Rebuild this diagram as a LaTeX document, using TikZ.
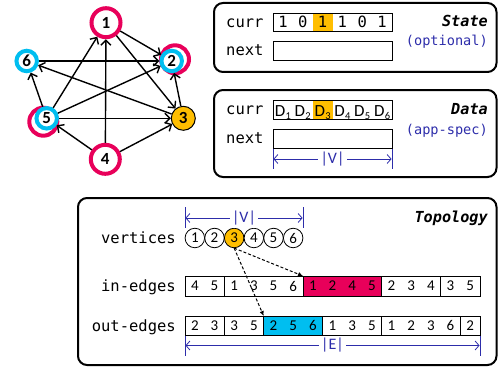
\documentclass[tikz,border=0pt]{standalone}
\usepackage{fontspec}
\setmainfont{Carlito}
\setmonofont{DejaVu Sans Mono}
\usepackage{xcolor}
\usetikzlibrary{arrows.meta,positioning,calc}

\definecolor{ringpink}{RGB}{232,0,90}
\definecolor{ringcyan}{RGB}{0,190,240}
\definecolor{hlorange}{RGB}{255,190,0}
\definecolor{dimblue}{RGB}{45,45,170}

\newcommand{\Dsub}[1]{D\kern0.3pt\raisebox{-2.5pt}{\fontsize{10.5}{10.5}\selectfont #1}}

\tikzset{
  gv/.style={circle, fill=white, inner sep=0pt, font=\fontsize{17}{17}\selectfont\bfseries},
  pinkv/.style={gv, draw=ringpink, line width=4pt, minimum size=29pt},
  cyanv/.style={gv, draw=ringcyan, line width=4pt, minimum size=20.5pt},
  garc/.style={line width=1.4pt, -{Straight Barb[length=5pt,width=10pt]}},
  panel/.style={line width=2pt, rounded corners=9pt},
  arr/.style={draw, line width=0.8pt, inner sep=0pt, anchor=north west},
  lbl/.style={font=\fontsize{15.5}{16}\selectfont\ttfamily, inner sep=0pt},
  title/.style={font=\fontsize{15.2}{16}\selectfont\ttfamily\bfseries\itshape, anchor=base east, inner sep=0pt},
  note/.style={font=\fontsize{13.6}{14}\selectfont\ttfamily, text=dimblue, anchor=base east, inner sep=0pt},
  dig/.style={font=\fontsize{15}{15}\selectfont, inner sep=0pt},
  vcirc/.style={circle, draw, line width=0.8pt, minimum size=19.5pt, inner sep=0pt, font=\fontsize{15}{15}\selectfont},
  dimline/.style={dimblue, line width=0.8pt},
  dimarr/.style={dimline, {Straight Barb[length=4pt,width=9pt]}-{Straight Barb[length=4pt,width=9pt]}},
  dimtxt/.style={fill=white, text=dimblue, font=\fontsize{16}{16}\selectfont, inner sep=2.5pt},
  ptr/.style={line width=1pt, dash pattern=on 3pt off 2pt, -{Latex[length=5pt,width=4.5pt]}},
}

\begin{document}
\begin{tikzpicture}[x=1pt,y=-1pt]
    \useasboundingbox (0,0) rectangle (498,369);

    % Graph
    \draw[ringpink, line width=4pt] (175,59.3) circle (14pt);
    \draw[ringpink, line width=4pt] (43.3,121.7) circle (14pt);
    \node[pinkv] (g1) at (106,22.7) {1};
    \node[cyanv] (g2) at (171.7,61) {2};
    \node[gv, draw=black, line width=1pt, fill=hlorange, minimum size=24pt] (g3) at (183.3,118.3) {3};
    \node[pinkv] (g4) at (105.3,159.3) {4};
    \node[cyanv] (g5) at (46.7,118.3) {5};
    \node[cyanv] (g6) at (26.7,61) {6};

    \draw[garc] (g1) -- (g2);
    \draw[garc] (g1) -- (g3);
    \draw[garc] (g4) -- (g1);
    \draw[garc] (g5) -- (g1);
    \draw[garc] (g6) -- (g2);
    \draw[garc] (g3) -- (g6);
    \draw[garc] (g4) -- (g5);
    \draw[garc] (g4) -- (g3);
    \draw[garc] (g5) -- (g6);
    \draw[garc, {Straight Barb[length=5pt,width=10pt]}-] (g2) -- (g3);
    \draw[garc, {Straight Barb[length=5pt,width=10pt]}-] (g2) -- (g5);
    \draw[garc, {Straight Barb[length=5pt,width=10pt]}-] (g3) -- (g5);

    % State
    \draw[panel] (214,3) rectangle (496.5,72);
    \fill[hlorange] (312.7,13) rectangle (332.5,31);
    \node[arr, minimum width=119pt, minimum height=18pt] (scurrbox) at (273,13) {};
    \node[arr, minimum width=119pt, minimum height=19pt] (snextbox) at (273,41) {};
    \node[lbl, anchor=base west] (scurr) at (226,27.5) {curr};
    \node[lbl, anchor=base west] (snext) at (226,55.5) {next};
    \foreach \b [count=\i] in {1,0,1,1,0,1}
        \node[lbl, anchor=base] (s\i) at ({273+(\i-0.5)*19.83},27.5) {\b};
    \node[title] (stitle) at (488,27) {State};
    \node[note] (snote) at (488,46) {(optional)};

    % Data
    \draw[panel] (214,90) rectangle (496.5,177);
    \fill[hlorange] (312.7,100) rectangle (332.5,119);
    \node[arr, minimum width=119pt, minimum height=19pt] (dcurrbox) at (273,100) {};
    \node[arr, minimum width=119pt, minimum height=19pt] (dnextbox) at (273,129) {};
    \node[lbl, anchor=base west] (dcurr) at (226,114) {curr};
    \node[lbl, anchor=base west] (dnext) at (226,143.5) {next};
    \foreach \i in {1,...,6}
        \node[font=\fontsize{17}{17}\selectfont, inner sep=0pt, anchor=base] (d\i) at ({273+(\i-0.5)*19.83},116.5) {\Dsub{\i}};
    \node[title] (dtitle) at (488,114) {Data};
    \node[note] (dnote) at (488,134.5) {(app-spec)};
    \draw[dimline] (dnextbox.south west) -- ++(0,20);
    \draw[dimline] (dnextbox.south east) -- ++(0,20);
    \coordinate (dvl) at (273.4,159);
    \coordinate (dvr) at (391.6,159);
    \draw[dimarr] (dvl) -- node[dimtxt] (dv) {|V|} (dvr);

    % Topology
    \draw[panel] (78,198) rectangle (496.5,365);
    \node[title] (ttitle) at (488,222) {Topology};
    \node[lbl, anchor=base east] (vlbl) at (176,243.3) {vertices};
    \foreach \i/\c in {1/white,2/white,3/hlorange,4/white,5/white,6/white}
        \node[vcirc, fill=\c] (v\i) at ({185+(\i-0.5)*19.67},238) {\i};
    \draw[dimline] (185,207) -- (185,228);
    \draw[dimline] (303,207) -- (303,228);
    \coordinate (tvl) at (185.4,218);
    \coordinate (tvr) at (302.6,218);
    \draw[dimarr] (tvl) -- node[dimtxt] (tv) {|V|} (tvr);

    % in-edges
    \node[lbl, anchor=base east] (inlbl) at (176,291) {in-edges};
    \node[fill=ringpink, minimum width=78.7pt, minimum height=20pt, anchor=north west, inner sep=0pt] (inhl) at (303,276) {};
    \foreach \a/\b in {0/2,2/6,6/10,10/13,13/15}
        \draw[line width=0.8pt] ({185+\a*19.67},276) rectangle ({185+\b*19.67},296);
    \foreach \d [count=\k] in {4,5,1,3,5,6,1,2,4,5,2,3,4,3,5}
        \node[dig] (in\k) at ({185+(\k-0.5)*19.67},286) {\d};

    % out-edges
    \node[lbl, anchor=base east] (outlbl) at (176,331) {out-edges};
    \node[fill=ringcyan, minimum width=59pt, minimum height=19.5pt, anchor=north west, inner sep=0pt] (outhl) at (263.7,316) {};
    \foreach \a/\b in {0/2,2/4,4/7,7/10,10/14,14/15}
        \draw[line width=0.8pt] ({185+\a*19.67},316) rectangle ({185+\b*19.67},335.5);
    \foreach \d [count=\k] in {2,3,3,5,2,5,6,1,3,5,1,2,3,6,2}
        \node[dig] (out\k) at ({185+(\k-0.5)*19.67},325.7) {\d};
    \draw[dimline] (185,336) -- (185,356);
    \draw[dimline] (480,336) -- (480,356);
    \coordinate (tel) at (185.4,345.5);
    \coordinate (ter) at (479.6,345.5);
    \draw[dimarr] (tel) -- node[dimtxt, pos=0.5] (te) {|E|} (ter);

    % pointers
    \draw[ptr] (v3.south) -- (inhl.north west);
    \draw[ptr] (v3.south) -- (outhl.north west);
\end{tikzpicture}
\end{document}
